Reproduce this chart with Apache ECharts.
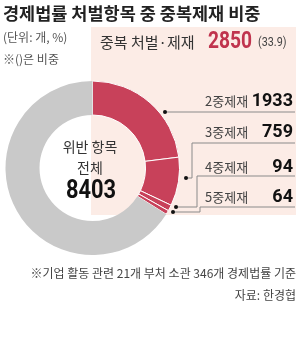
<!DOCTYPE html>
<html><head><meta charset="utf-8">
<script src="https://cdn.jsdelivr.net/npm/echarts@6/dist/echarts.min.js"></script>
<style>html,body{margin:0;padding:0;background:#fff}#c{width:300px;height:357px}</style>
</head><body><div id="c"></div>
<script>
// ---- data ----
const categories = ['2중제재', '3중제재', '4중제재', '5중제재'];
const values = [1933, 759, 94, 64];
const totalItems = 8403;
const duplicateShare = 33.9;
const restName = '기타';

const titleText = '경제법률 처벌항목 중 중복제재 비중';
const unitText = '(단위: 개, %)';
const noteText = '※()은 비중';
const boxLabel = '중복 처벌·제재';
const centerLines = ['위반 항목', '전체'];
const footnote = '※기업 활동 관련 21개 부처 소관 346개 경제법률 기준';
const sourceText = '자료: 한경협';

// ---- derived ----
const dupTotal = values.reduce((a, b) => a + b, 0);
const pieData = categories.map((c, i) => ({ name: c, value: values[i] }));
pieData.push({
  name: restName, value: totalItems - dupTotal,
  itemStyle: { color: '#c9c9c9', borderWidth: 0 },
  label: { show: false }, labelLine: { show: false }
});

// ---- layout / style ----
const KR = '"Noto Sans CJK KR", sans-serif';
const NUM = 'Roboto, "Noto Sans", sans-serif';
const RED = '#c8415a';
const labelX = 205;
const rowY = [101, 132, 167, 197];
const linePts = [
  [[165, 112], [295, 112]],
  [[186, 178], [192, 178], [192, 143], [295, 143]],
  [[176, 207], [197, 207], [197, 176], [295, 176]],
  [[173, 212], [200, 212], [200, 207], [295, 207]]
];

const chart = echarts.init(document.getElementById('c'), null, { renderer: 'canvas' });

function txt(text, x, y, size, opts) {
  opts = opts || {};
  return {
    type: 'text', x: x, y: y, z: 50,
    scaleX: opts.scaleX || 1,
    style: {
      text: text,
      fontSize: size,
      fontFamily: opts.family || KR,
      fontWeight: opts.weight || 'normal',
      fill: opts.color || '#333',
      align: opts.align || 'left',
      textAlign: opts.align || 'left',
      verticalAlign: 'middle',
      textVerticalAlign: 'middle'
    }
  };
}

const graphics = [
  { type: 'rect', z: -10, shape: { x: 91, y: 27, width: 205, height: 188 }, style: { fill: '#fcece6' } },
  txt(titleText, 3, 13, 17.5, { weight: 'bold', color: '#222' }),
  txt(unitText, 3, 37, 12, { color: '#555' }),
  txt(noteText, 3, 59, 12, { color: '#555' }),
  txt(boxLabel, 100, 42, 15, { color: '#333' }),
  txt(String(dupTotal), 208, 42, 24, { family: NUM, weight: 'bold', color: '#c0344e', scaleX: 0.8 }),
  txt('(' + duplicateShare + ')', 258, 43, 12, { family: NUM, color: '#444', scaleX: 0.9 }),
  txt(centerLines[0], 90, 147, 14, { align: 'center', color: '#333' }),
  txt(centerLines[1], 90, 168, 14, { align: 'center', color: '#333' }),
  txt(String(totalItems), 91, 191, 26, { family: NUM, weight: 'bold', align: 'center', color: '#111', scaleX: 0.84 }),
  txt(footnote, 296, 273, 12, { align: 'right', color: '#444' }),
  txt(sourceText, 296, 295, 12, { align: 'right', color: '#444' })
];
linePts.forEach(p => {
  graphics.push({ type: 'circle', z: 100, shape: { cx: p[0][0], cy: p[0][1], r: 2 }, style: { fill: '#111' } });
});

chart.setOption({
  animation: false,
  graphic: graphics,
  series: [{
    type: 'pie',
    center: [92.5, 168],
    radius: [53, 87],
    startAngle: 90,
    clockwise: true,
    avoidLabelOverlap: false,
    emphasis: { disabled: true },
    itemStyle: { color: RED, borderColor: '#fff', borderWidth: 1 },
    label: {
      show: true,
      position: 'outside',
      formatter: p => `{n|${p.name}}{v|${p.value}}`,
      rich: {
        n: { fontFamily: KR, fontSize: 13, color: '#444', width: 50, align: 'left' },
        v: { fontFamily: NUM, fontSize: 18, fontWeight: 'bold', color: '#111', width: 38, align: 'right' }
      }
    },
    labelLine: { show: true, lineStyle: { color: '#8a8a8a', width: 1 } },
    labelLayout: function (params) {
      const i = params.dataIndex;
      if (i >= categories.length) return {};
      return {
        x: labelX, y: rowY[i], align: 'left', verticalAlign: 'middle',
        labelLinePoints: linePts[i]
      };
    },
    data: pieData
  }]
});
</script></body></html>
